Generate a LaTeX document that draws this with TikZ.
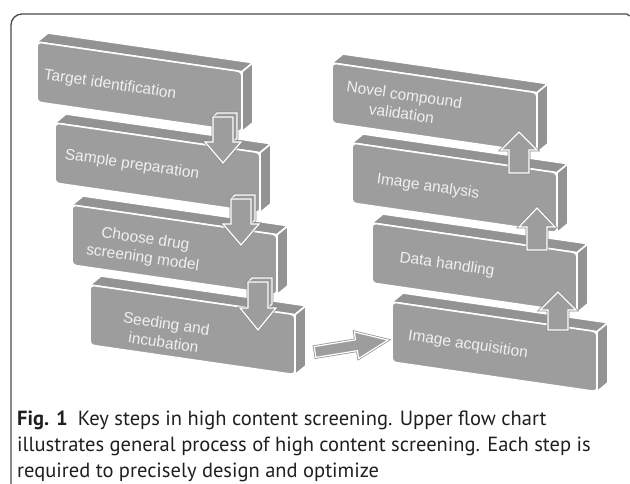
\documentclass[tikz,border=0pt]{standalone}
\usepackage{fontspec}
\setmainfont{Liberation Sans}
\newfontfamily\capfont{PT Sans}
\definecolor{boxgray}{HTML}{9D9D9D}
\definecolor{sidegray}{HTML}{939393}
\definecolor{framegray}{HTML}{4A4A4A}
\definecolor{rimgray}{HTML}{8A8A8A}
\tikzset{
  frontface/.style={fill=boxgray, draw=white, line width=1.6, line join=round, rounded corners=4pt},
  sideface/.style={fill=sidegray, draw=white, line width=1.6, line join=round},
  steplabel/.style={text=white!94!black, font=\fontsize{15.5}{19}\selectfont, align=center, rotate=-8.3, inner sep=0pt},
  arrowshape/.style={fill=boxgray, draw=white, line width=1.2, line join=miter, preaction={draw=rimgray, line width=2.6}},
  capline/.style={anchor=base west, inner sep=0pt, font=\capfont\fontsize{20.5}{26}\selectfont, text=black!88},
}
% slab with front-face top-left corner at (#1,#2) in pixel coordinates
\newcommand\slabbox[2]{%
  \path[sideface] (#1,#2) -- ({#1+11},{#2-9}) -- ({#1+216},{#2+20.7}) -- ({#1+205},{#2+29.7}) -- cycle;
  \path[sideface] ({#1+205},{#2+29.7}) -- ({#1+216},{#2+20.7}) -- ({#1+216},{#2+80.7}) -- ({#1+205},{#2+89.7}) -- cycle;
  \path[frontface] (#1,#2) -- ({#1+205},{#2+29.7}) -- ({#1+205},{#2+89.7}) -- (#1,{#2+60}) -- cycle;
}
% down arrow: centre x, top y, wing y, tip y
\newcommand\downarrowshape[4]{%
  \path[arrowshape] ({#1-10},#2) -- ({#1-6},{#2-4}) -- ({#1+14},{#2-4}) -- ({#1+14},{#3-4}) -- ({#1+10},#3) -- ({#1+10},#2) -- cycle;
  \path[arrowshape] ({#1-10},#2) -- ({#1+10},#2) -- ({#1+10},#3) -- ({#1+18},#3) -- (#1,#4) -- ({#1-18},#3) -- ({#1-10},#3) -- cycle;
}
% up arrow: centre x, bottom y, wing y, tip y
\newcommand\uparrowshape[4]{%
  \path[arrowshape] ({#1-10},#2) -- ({#1+10},#2) -- ({#1+10},#3) -- ({#1+18},#3) -- (#1,#4) -- ({#1-18},#3) -- ({#1-10},#3) -- cycle;
}
\begin{document}
\begin{tikzpicture}[x=1pt,y=-1pt]
\useasboundingbox (0,0) rectangle (630,484);
% frame
\draw[framegray, line width=1.3, rounded corners=11pt] (11,486) -- (11,14) -- (627,14);
\draw[framegray, line width=1.3] (627,14) -- (629.5,16);
% left column
\slabbox{37}{42}
\slabbox{55}{123}
\slabbox{72}{205}
\slabbox{90}{285}
% right column
\slabbox{332}{63}
\slabbox{352}{143}
\slabbox{372}{223}
\slabbox{392}{302}
% labels
\node[steplabel] (s1) at (110,85) {Target identification};
\node[steplabel] (s2) at (132,165) {Sample preparation};
\node[steplabel] (s3) at (144,249) {Choose drug\\screening model};
\node[steplabel] (s4) at (165,333) {Seeding and\\incubation};
\node[steplabel] (s5) at (468,345) {Image acquisition};
\node[steplabel] (s6) at (447,265) {Data handling};
\node[steplabel] (s7) at (428,187) {Image analysis};
\node[steplabel] (s8) at (403,104) {Novel compound\\validation};
% arrows
\downarrowshape{223}{117}{142}{163}
\downarrowshape{241}{199}{224}{245}
\downarrowshape{258}{282}{308}{330}
\uparrowshape{558}{330}{310}{292}
\uparrowshape{537}{250}{227}{208}
\uparrowshape{519}{173}{150}{132}
\begin{scope}[shift={(315,352)}, rotate=9.3]
  \path[arrowshape] (0,-5.5) -- (42,-5.5) -- (42,-13.5) -- (74,0) -- (42,13.5) -- (42,5.5) -- (0,5.5) -- cycle;
\end{scope}
% caption
\node[capline] (c1) at (17,425) {\textbf{Fig. 1}\enspace Key steps in high content screening. Upper flow chart};
\node[capline] (c2) at (17,451) {illustrates general process of high content screening. Each step is};
\node[capline] (c3) at (17,477) {required to precisely design and optimize};
\end{tikzpicture}
\end{document}
